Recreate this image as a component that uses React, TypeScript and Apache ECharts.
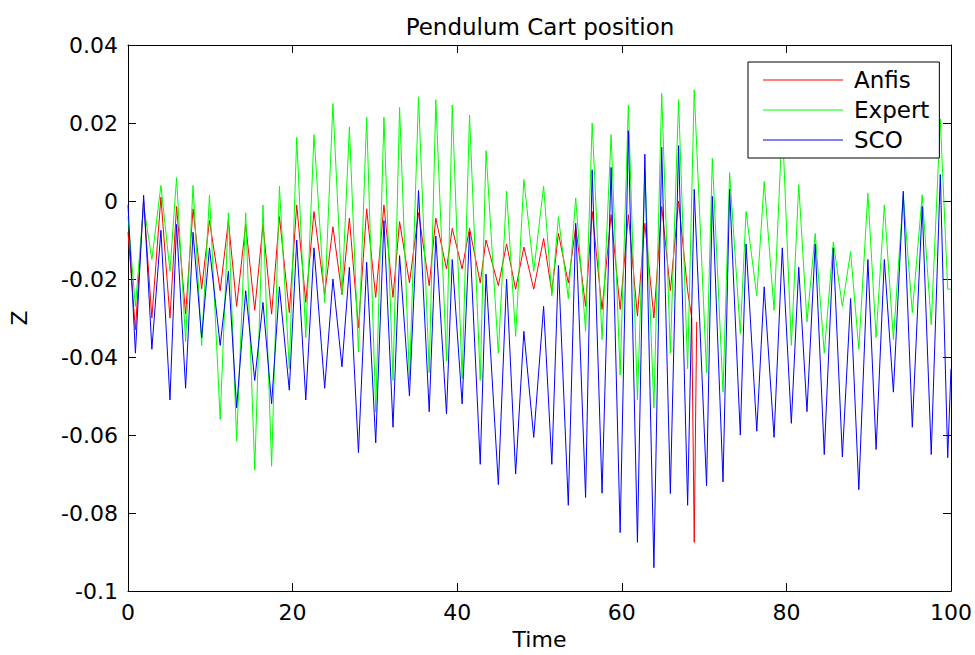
import React, { useEffect, useRef } from 'react';
import * as echarts from 'echarts';

// Extrema times (peaks / troughs), shared by Expert and SCO
const time = [
  0, 0.9, 1.9, 2.9, 4.0, 5.1, 5.9, 7.0, 7.9, 8.95,
  9.9, 11.2, 12.2, 13.2, 14.3, 15.4, 16.4, 17.45, 18.4, 19.6,
  20.5, 21.6, 22.6, 23.9, 24.9, 26.0, 26.9, 28.0, 29.0, 30.1,
  31.1, 32.2, 33.0, 34.2, 35.3, 36.6, 37.4, 38.7, 39.4, 40.6,
  41.5, 42.8, 43.5, 45.0, 46.0, 47.1, 48.1, 49.3, 50.5, 51.5,
  52.3, 53.5, 54.4, 55.6, 56.4, 57.6, 58.7, 59.8, 60.8, 61.9,
  62.8, 63.9, 64.85, 65.9, 66.9, 68.0, 68.8, 70.3, 71.0, 72.3,
  73.1, 74.4, 75.1, 76.4, 77.3, 78.5, 79.5, 80.6, 81.5, 82.5,
  83.5, 84.6, 85.7, 86.8, 87.8, 88.8, 89.9, 90.9, 91.9, 93.0,
  94.2, 95.3, 96.5, 97.6, 98.7, 99.6, 100,
];

const expertZ = [
  -0.004, -0.027, -0.001, -0.015, 0.004, -0.018, 0.006, -0.036, 0.004, -0.037,
  0.0015, -0.056, -0.003, -0.0615, -0.003, -0.069, -0.001, -0.068, 0.0038, -0.043,
  0.0163, -0.035, 0.017, -0.026, 0.025, -0.024, 0.019, -0.0386, 0.0215, -0.054,
  0.0215, -0.046, 0.024, -0.046, 0.0267, -0.044, 0.026, -0.041, 0.0246, -0.0455,
  0.022, -0.046, 0.0129, -0.039, 0.0025, -0.0347, 0.0055, -0.018, 0.0038, -0.0243,
  -0.004, -0.025, 0.0008, -0.0334, 0.02, -0.0355, 0.017, -0.0446, 0.0246, -0.051,
  0.0077, -0.053, 0.0276, -0.039, 0.026, -0.043, 0.0285, -0.044, 0.011, -0.049,
  0.0073, -0.034, -0.0027, -0.0243, 0.005, -0.028, 0.02, -0.037, 0.0042, -0.031,
  -0.0083, -0.039, -0.0105, -0.027, -0.013, -0.038, 0.002, -0.035, -0.001, -0.0355,
  0.0016, -0.0286, 0.0016, -0.0317, 0.021, -0.0226, -0.0226,
];

const scoZ = [
  -0.001, -0.039, 0.0015, -0.038, -0.0075, -0.051, -0.006, -0.048, -0.008, -0.035,
  -0.012, -0.037, -0.018, -0.053, -0.023, -0.046, -0.026, -0.052, -0.022, -0.0485,
  -0.01, -0.051, -0.012, -0.048, -0.02, -0.0425, -0.017, -0.0645, -0.0157, -0.062,
  -0.005, -0.058, -0.014, -0.05, 0.0027, -0.054, -0.009, -0.0546, -0.015, -0.052,
  -0.0079, -0.0675, -0.0187, -0.0727, -0.02, -0.07, -0.0334, -0.0606, -0.027, -0.0675,
  -0.0165, -0.078, -0.0057, -0.076, 0.008, -0.0749, 0.0086, -0.085, 0.018, -0.0875,
  0.012, -0.094, 0.0138, -0.075, 0.0142, -0.078, 0.003, -0.073, 0.0012, -0.072,
  0.003, -0.06, -0.011, -0.059, -0.022, -0.0606, -0.012, -0.057, -0.017, -0.054,
  -0.011, -0.065, -0.012, -0.0656, -0.025, -0.074, -0.015, -0.0637, -0.015, -0.049,
  0.0025, -0.058, -0.0014, -0.065, 0.0068, -0.0658, -0.043,
];

// Anfis stops at about t = 69 with a final downward spike
const anfisTime = [
  0, 0.9, 1.9, 2.9, 4.0, 5.1, 5.9, 7.0, 7.9, 8.95,
  9.9, 11.2, 12.2, 13.2, 14.3, 15.4, 16.4, 17.45, 18.4, 19.6,
  20.5, 21.6, 22.6, 23.9, 24.9, 26.0, 26.9, 28.0, 29.0, 30.1,
  31.1, 32.2, 33.0, 34.2, 35.3, 36.6, 37.4, 38.7, 39.4, 40.6,
  41.5, 42.8, 43.5, 45.0, 46.0, 47.1, 48.1, 49.3, 50.5, 51.5,
  52.3, 53.5, 54.4, 55.6, 56.4, 57.6, 58.7, 59.8, 60.8, 61.9,
  62.8, 63.9, 64.85, 65.9, 66.9, 68.0, 68.5, 68.8, 69.1,
];

const anfisZ = [
  -0.008, -0.033, 0.0, -0.03, 0.001, -0.03, -0.0014, -0.029, -0.002, -0.0225,
  -0.005, -0.023, -0.005, -0.027, -0.006, -0.028, -0.006, -0.029, -0.004, -0.0286,
  -0.001, -0.026, -0.0027, -0.024, -0.0066, -0.024, -0.0044, -0.0325, -0.002, -0.0247,
  -0.001, -0.0247, -0.0053, -0.021, -0.003, -0.0217, -0.0044, -0.0174, -0.007, -0.0174,
  -0.007, -0.021, -0.01, -0.0217, -0.011, -0.0226, -0.0118, -0.0226, -0.0096, -0.0234,
  -0.0083, -0.021, -0.0066, -0.027, -0.0027, -0.0278, -0.0035, -0.0278, -0.0035, -0.0295,
  -0.0057, -0.03, -0.0014, -0.023, 0.0, -0.023, -0.03, -0.0875, -0.031,
];

const seriesNames = ['Anfis', 'Expert', 'SCO'];
const seriesColors = ['#ff0000', '#00ff00', '#0000ff'];
const xTicks = { min: 0, max: 100, interval: 20 };
const yTicks = { min: -0.1, max: 0.04, interval: 0.02 };

const FONT = 'DejaVu Sans';

export default function App() {
  const ref = useRef<HTMLDivElement>(null);

  useEffect(() => {
    if (!ref.current) return;
    const chart = echarts.init(ref.current, null, { renderer: 'svg' });

    const pairs = (ts: number[], vs: number[]) => ts.map((t, i) => [t, vs[i]]);
    const dataSets = [pairs(anfisTime, anfisZ), pairs(time, expertZ), pairs(time, scoZ)];

    const axisLine = { show: true, onZero: false, lineStyle: { color: '#000', width: 1 } };
    const tickIn = { show: true, inside: true, length: 8, lineStyle: { color: '#000', width: 1 } };

    chart.setOption({
      animation: false,
      backgroundColor: '#fff',
      title: {
        text: 'Pendulum Cart position',
        left: 535,
        top: 10,
        textAlign: 'center',
        textStyle: { fontFamily: FONT, fontSize: 23, fontWeight: 'normal', color: '#000' },
      },
      legend: {
        data: seriesNames,
        orient: 'vertical',
        left: 748,
        top: 62,
        padding: [6, 10, 6, 15],
        icon: 'rect',
        itemWidth: 80,
        itemHeight: 1,
        itemGap: 6,
        selectedMode: false,
        backgroundColor: '#fff',
        borderColor: '#000',
        borderWidth: 1,
        borderRadius: 0,
        textStyle: { fontFamily: FONT, fontSize: 23, lineHeight: 24, color: '#000', padding: [0, 0, 0, 6] },
      },
      grid: { left: 120, right: 24, top: 45, bottom: 58, containLabel: false },
      xAxis: [
        {
          type: 'value',
          position: 'bottom',
          ...xTicks,
          name: 'Time',
          nameLocation: 'middle',
          nameGap: 33,
          nameTextStyle: { fontFamily: FONT, fontSize: 22, color: '#000' },
          axisLine,
          axisTick: tickIn,
          axisLabel: { fontFamily: FONT, fontSize: 22, color: '#000', margin: 10 },
          splitLine: { show: false },
        },
        {
          type: 'value',
          position: 'top',
          ...xTicks,
          axisLine,
          axisTick: tickIn,
          axisLabel: { show: false },
          splitLine: { show: false },
        },
      ],
      yAxis: [
        {
          type: 'value',
          position: 'left',
          ...yTicks,
          name: 'Z',
          nameLocation: 'middle',
          nameRotate: 90,
          nameGap: 98,
          nameTextStyle: { fontFamily: FONT, fontSize: 22, color: '#000' },
          axisLine,
          axisTick: tickIn,
          axisLabel: { fontFamily: FONT, fontSize: 22, color: '#000', margin: 10 },
          splitLine: { show: false },
        },
        {
          type: 'value',
          position: 'right',
          ...yTicks,
          axisLine,
          axisTick: tickIn,
          axisLabel: { show: false },
          splitLine: { show: false },
        },
      ],
      series: seriesNames.map((name, i) => ({
        name,
        type: 'line',
        xAxisIndex: 0,
        yAxisIndex: 0,
        data: dataSets[i],
        symbol: 'none',
        showSymbol: false,
        color: seriesColors[i],
        lineStyle: { color: seriesColors[i], width: 1 },
        itemStyle: { color: seriesColors[i] },
      })),
    });

    return () => chart.dispose();
  }, []);

  return (
    <div
      ref={ref}
      style={{ position: 'fixed', left: 0, top: 0, width: 975, height: 655, background: '#fff' }}
    />
  );
}
